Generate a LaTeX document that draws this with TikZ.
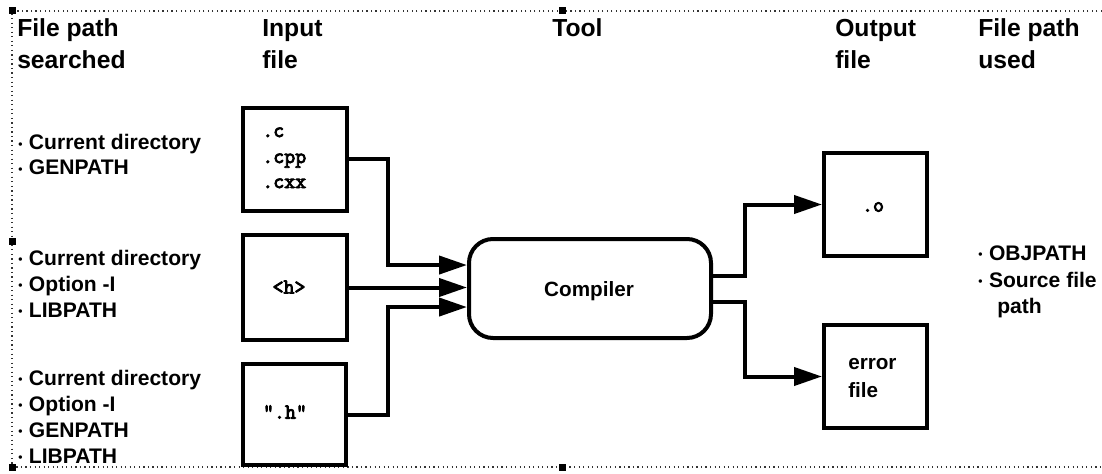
\documentclass[tikz,border=0pt]{standalone}
\usepackage{fontspec}
\setmainfont{Liberation Sans}
\newfontfamily\codefont{Latin Modern Mono}[FakeBold=4]
\usetikzlibrary{arrows.meta}
\newcommand{\bul}{{\fontsize{9}{9}\selectfont\raisebox{0.8pt}{•}}\hspace{0.5pt}}
\begin{document}
\begin{tikzpicture}[x=0.75pt,y=-0.75pt,
  hdr/.style={anchor=base west, inner sep=0pt, font=\fontsize{18.5}{22}\selectfont\bfseries},
  itm/.style={anchor=base west, inner sep=0pt, font=\fontsize{15.8}{19}\selectfont\bfseries},
  lbl/.style={inner sep=0pt, font=\fontsize{15.5}{19}\selectfont\bfseries},
  mono/.style={inner sep=0pt, font=\fontsize{16}{18}\selectfont\codefont},
  filebox/.style={draw, line width=3pt, minimum width=78pt, minimum height=77.25pt, inner sep=0pt},
  toolbox/.style={draw, line width=3pt, rounded corners=18pt, minimum width=181.5pt, minimum height=74.25pt, inner sep=0pt},
  conn/.style={line width=3pt},
  arr/.style={conn, -{Triangle[length=21pt,width=13.5pt]}},
  frame/.style={line width=0.9pt, dash pattern=on 0.9pt off 2.5pt, black!80},
  handle/.style={fill=black}
]
\useasboundingbox (0,0) rectangle (1102,474);
\fill[white] (0,0) rectangle (1102,474);

% dotted frame
\draw[frame] (1102,11) -- (12,11) -- (12,467) -- (1102,467);
\foreach \p in {(12,11),(12,241),(12,467),(562,11),(562,467)}
  \fill[handle] \p ++(-3.5,-3.5) rectangle ++(7,7);

% headers
\node[hdr] (h1a) at (17,37) {File path};
\node[hdr] (h1b) at (17,69) {searched};
\node[hdr] (h2a) at (262,37) {Input};
\node[hdr] (h2b) at (262,69) {file};
\node[hdr] (h3a) at (552,37) {Tool};
\node[hdr] (h4a) at (835,37) {Output};
\node[hdr] (h4b) at (835,69) {file};
\node[hdr] (h5a) at (978,37) {File path};
\node[hdr] (h5b) at (978,69) {used};

% left bullet lists
\node[itm] (l11) at (18,150) {\bul{} Current directory};
\node[itm] (l12) at (18,175) {\bul{} GENPATH};
\node[itm] (l21) at (18,265) {\bul{} Current directory};
\node[itm] (l22) at (18,291) {\bul{} Option -I};
\node[itm] (l23) at (18,317) {\bul{} LIBPATH};
\node[itm] (l31) at (18,385) {\bul{} Current directory};
\node[itm] (l32) at (18,411) {\bul{} Option -I};
\node[itm] (l33) at (18,437) {\bul{} GENPATH};
\node[itm] (l34) at (18,463) {\bul{} LIBPATH};

% right bullet list
\node[itm] (r1) at (978,260) {\bul{} OBJPATH};
\node[itm] (r2) at (978,287) {\bul{} Source file};
\node[itm] (r3) at (997,313) {path};

% input boxes
\node[filebox] (b1) at (295,159.5) {};
\node[mono, anchor=base west] (c1) at (262,137) {.c};
\node[mono, anchor=base west] (c2) at (262,163) {.cpp};
\node[mono, anchor=base west] (c3) at (262,188) {.cxx};
\node[filebox, minimum height=78.75pt] (b2) at (295,287.5) {};
\node[mono] (t2) at (289,287) {<h>};
\node[filebox, minimum width=77.25pt, minimum height=75.75pt] (b3) at (294.5,414.5) {};
\node[mono] (t3) at (285,412) {".h"};

% compiler
\node[toolbox] (cmp) at (590,288.5) {};
\node[lbl] (ct) at (589,291) {Compiler};

% output boxes
\node[filebox, minimum width=77.25pt] (ob) at (875.5,204.5) {};
\node[mono] (ot) at (873,207) {.o};
\node[filebox, minimum width=77.25pt] (eb) at (875.5,376.5) {};
\node[lbl, anchor=base west] (et1) at (848,369) {error};
\node[lbl, anchor=base west] (et2) at (848,397) {file};

% connector coordinates
\coordinate (jx) at (388,0);
\coordinate (in1) at ([yshift=17.6pt]cmp.west);
\coordinate (in3) at ([yshift=-13.9pt]cmp.west);
\coordinate (kx) at (745,0);
\coordinate (o1) at ([yshift=9.4pt]cmp.east);
\coordinate (o2) at ([yshift=-10.1pt]cmp.east);

% connectors
\draw[arr] (b1.east) -- (jx |- b1.east) -- (jx |- in1) -- (in1);
\draw[arr] (b2.east) -- (b2.east -| cmp.west);
\draw[arr] (b3.east) -- (jx |- b3.east) -- (jx |- in3) -- (in3);
\draw[arr] (o1) -- (o1 -| kx) |- (ob.west);
\draw[arr] (o2) -- (o2 -| kx) |- (eb.west);
\end{tikzpicture}
\end{document}
